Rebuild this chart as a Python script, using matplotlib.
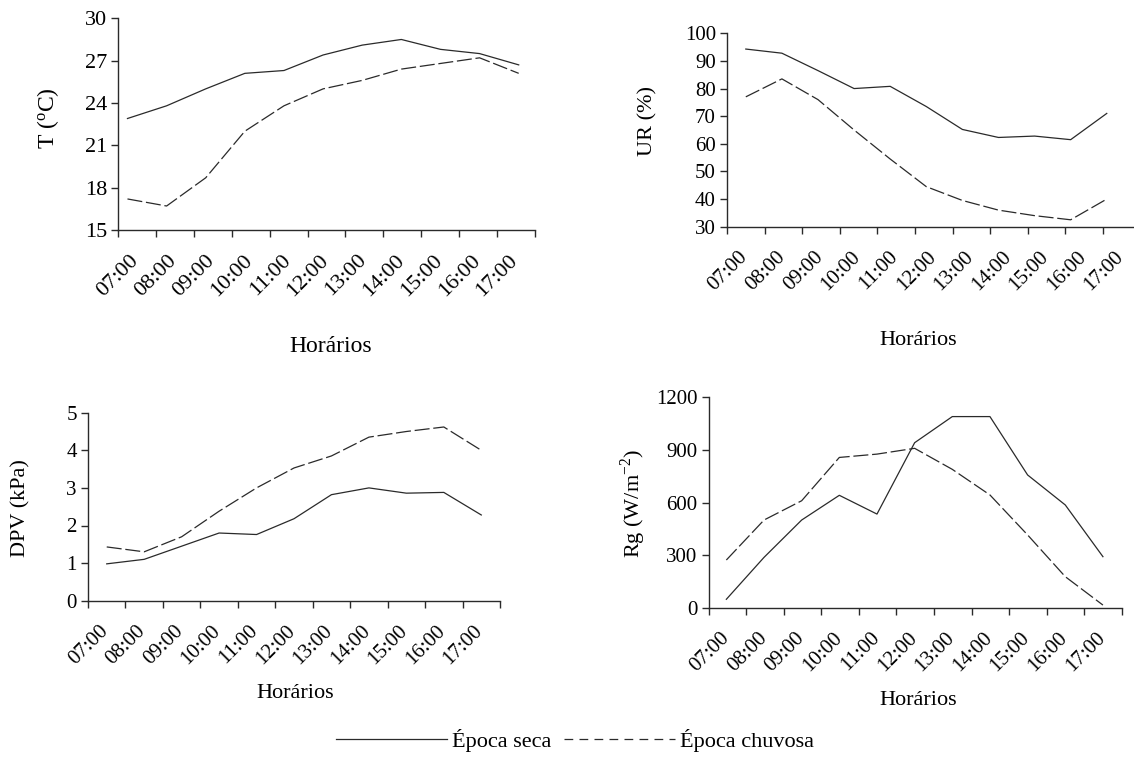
import matplotlib.pyplot as plt
from matplotlib.lines import Line2D
import numpy as np

plt.rcParams['font.family'] = ['Liberation Serif', 'DejaVu Serif']
plt.rcParams['mathtext.fontset'] = 'custom'
plt.rcParams['mathtext.rm'] = 'Liberation Serif'

horarios = ['07:00', '08:00', '09:00', '10:00', '11:00', '12:00',
            '13:00', '14:00', '15:00', '16:00', '17:00']

t_seca = [22.9, 23.8, 25.0, 26.1, 26.3, 27.4, 28.1, 28.5, 27.8, 27.5, 26.7]
t_chuvosa = [17.2, 16.7, 18.7, 22.0, 23.8, 25.0, 25.6, 26.4, 26.8, 27.2, 26.1]

ur_seca = [94.3, 92.8, 86.5, 80.0, 80.8, 73.5, 65.2, 62.3, 62.8, 61.5, 71.0]
ur_chuvosa = [77.0, 83.5, 76.0, 65.0, 54.5, 44.5, 39.5, 36.0, 34.0, 32.5, 40.0]

dpv_seca = [0.98, 1.10, 1.45, 1.80, 1.76, 2.18, 2.82, 3.00, 2.86, 2.88, 2.28]
dpv_chuvosa = [1.43, 1.30, 1.70, 2.38, 3.00, 3.53, 3.85, 4.35, 4.50, 4.62, 4.00]

rg_seca = [48, 287, 500, 641, 534, 941, 1090, 1090, 757, 586, 291]
rg_chuvosa = [272, 500, 610, 857, 876, 909, 789, 643, 415, 177, 15]

W, H = 1134, 768
cor = '#2a2a2a'


def px_rect(x0, x1, ytop, ybot):
    return [x0 / W, 1 - ybot / H, (x1 - x0) / W, (ybot - ytop) / H]


fig = plt.figure(figsize=(W / 100, H / 100), dpi=100)

# rect, data, ylim, yticks, ylabel, data span, label offset, label coords, font size
paineis = [
    (px_rect(118, 535, 18.3, 230), t_seca, t_chuvosa, (15, 30), [15, 18, 21, 24, 27, 30],
     r'T ($\mathregular{^o}$C)', (0.25, 10.57), 0.3, (-0.168, 0.53), (0.51, -0.552), 16),
    (px_rect(727, 1140.6, 33.3, 226.7), ur_seca, ur_chuvosa, (30, 100), range(30, 101, 10),
     'UR (%)', (0.5, 10.1), 0.3, (-0.192, 0.547), (0.463, -0.586), 15),
    (px_rect(88, 500, 412.7, 600.7), dpv_seca, dpv_chuvosa, (0, 5), range(0, 6),
     'DPV (kPa)', (0.5, 10.5), 0.28, (-0.162, 0.493), (0.504, -0.491), 15),
    (px_rect(708.7, 1121.7, 397.3, 607.7), rg_seca, rg_chuvosa, (0, 1200), range(0, 1201, 300),
     r'Rg (W/m$^{-2}$)', (0.47, 10.5), 0.3, (-0.182, 0.498), (0.507, -0.439), 15),
]

for rect, seca, chuvosa, ylim, yticks, ylabel, span, off, ylab_xy, xlab_xy, fs in paineis:
    ax = fig.add_axes(rect)
    x = np.linspace(span[0], span[1], len(horarios))
    ax.plot(x, seca, color=cor, lw=0.9)
    ax.plot(x, chuvosa, color=cor, lw=0.9, linestyle=(0, (12, 3)))
    ax.set_xlim(0, 11)
    ax.set_ylim(*ylim)
    ax.set_yticks(list(yticks))
    ax.set_xticks(range(12))
    ax.set_xticklabels([])
    ax.set_xticks(np.arange(11) + off, minor=True)
    ax.set_xticklabels(horarios, minor=True, rotation=45, ha='right', va='top',
                       rotation_mode='anchor', fontsize=fs)
    ax.tick_params(axis='x', which='minor', length=0, pad=15)
    ax.tick_params(axis='x', which='major', length=5, width=1, color=cor)
    ax.tick_params(axis='y', length=5, width=1, color=cor, labelsize=fs, pad=3)
    for s in ['top', 'right']:
        ax.spines[s].set_visible(False)
    for s in ['left', 'bottom']:
        ax.spines[s].set_color(cor)
        ax.spines[s].set_linewidth(1)
    ax.set_ylabel(ylabel, fontsize=fs + 1, va='center')
    ax.yaxis.set_label_coords(*ylab_xy)
    ax.set_xlabel('Horários', fontsize=fs + 1, va='center')
    ax.xaxis.set_label_coords(*xlab_xy)

handles = [Line2D([], [], color=cor, lw=0.9),
           Line2D([], [], color=cor, lw=0.9, linestyle=(0, (7, 5)))]
fig.legend(handles, ['Época seca', 'Época chuvosa'], loc='center',
           bbox_to_anchor=(575 / W, 1 - 740 / H), ncol=2, frameon=False,
           fontsize=16, handlelength=5, columnspacing=0.6, handletextpad=0.2)

fig.savefig('out.png', dpi=100)
